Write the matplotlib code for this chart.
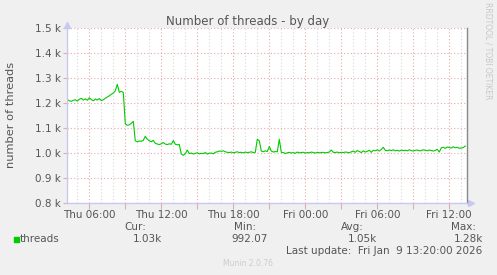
import matplotlib
matplotlib.use('Agg')
import matplotlib.pyplot as plt
import matplotlib.dates as mdates
from matplotlib.ticker import FixedLocator, FuncFormatter
import pandas as pd

# ---------------------------------------------------------------
# Data: number of threads, 10-minute samples, Thu 04:10 .. Fri 13:20
# ---------------------------------------------------------------
start_time = '2026-01-08 04:10'
threads = [
    1215, 1210, 1208, 1212, 1214, 1209, 1216, 1220, 1213, 1218,
    1212, 1222, 1215, 1210, 1217, 1213, 1219, 1211, 1214, 1220,
    1225, 1230, 1236, 1241, 1250, 1276, 1244, 1248, 1243,
    1118, 1112, 1114, 1120, 1128,
    1050, 1046, 1049, 1048, 1052, 1068,
    1056, 1050, 1046, 1052, 1040, 1037, 1035, 1038, 1043, 1037,
    1035, 1038, 1036, 1051, 1036, 1034, 1035,
    997, 992, 998, 1013,
    999, 1001, 997, 1000, 1002, 998, 1000, 999, 1003, 997,
    1000, 1001, 998, 1004, 1006, 1009, 1008, 1010,
    1006, 1004, 1003, 1005, 1002, 1004, 1006, 1003, 1004, 1002,
    1005, 1003, 1004, 1006, 1003, 1004,
    1056, 1050,
    1009, 1006, 1010, 1007,
    1027,
    1009, 1005, 1007,
    1006,
    1056,
    1004, 1003, 999, 1002, 1004, 1001, 1003, 1000, 1005, 1002,
    1003, 1004, 1001, 1003, 1002, 1005, 1003, 1001, 1004, 1002,
    1003, 1004, 1002, 1003, 1005,
    1013,
    1004, 1003, 1005, 1002, 1004, 1003, 1005, 1004, 1002, 1006,
    1009, 1004, 1011, 1007, 1003, 1010, 1005, 1008, 1012, 1004,
    1012, 1010, 1014, 1009, 1015, 1024,
    1012, 1010, 1013, 1011, 1014, 1010, 1012, 1009, 1013, 1011,
    1012, 1010, 1014, 1011, 1009, 1012, 1013, 1010, 1011, 1014,
    1012, 1010, 1013, 1011, 1009, 1012, 1016,
    1005,
    1022, 1024, 1020, 1025, 1023, 1021, 1026, 1022, 1024, 1020,
    1021, 1023, 1029,
]
times = pd.date_range(start_time, periods=len(threads), freq='10min')

y_ticks = [800, 900, 1000, 1100, 1200, 1300, 1400, 1500]
stat_names = ['Cur:', 'Min:', 'Avg:', 'Max:']
stat_values = ['1.03k', '992.07', '1.05k', '1.28k']
last_update = 'Last update:  Fri Jan  9 13:20:00 2026'

# ---------------------------------------------------------------
# Figure
# ---------------------------------------------------------------
W, H = 497, 275
bg = '#f0f0f0'
txt = '#555555'
fig = plt.figure(figsize=(W / 100, H / 100), dpi=100, facecolor=bg)
ax = fig.add_axes([66.7 / W, 1 - 203.3 / H, 400 / W, 175 / H])
ax.set_facecolor('white')

ax.plot(times, threads, color='#00cc00', linewidth=0.8)

ax.set_xlim(pd.Timestamp('2026-01-08 04:07'), pd.Timestamp('2026-01-09 13:27'))
ax.set_ylim(800, 1500)

# grid: grey every hour, red every 3 hours, labels every 6 hours
ax.xaxis.set_minor_locator(mdates.HourLocator())
ax.xaxis.set_major_locator(mdates.HourLocator(byhour=range(0, 24, 3)))
ax.xaxis.set_major_formatter(FuncFormatter(
    lambda v, p: mdates.num2date(v).strftime('%a %H:%M')
    if mdates.num2date(v).hour % 6 == 0 else ''))
ax.grid(which='minor', axis='x', color='#d8d8d8', linestyle=(0, (1, 2)), linewidth=0.8)
ax.grid(which='major', axis='x', color='#eaa8a8', linestyle=(0, (1, 2)), linewidth=0.8)
ax.yaxis.set_major_locator(FixedLocator(y_ticks))
ax.yaxis.set_major_formatter(FuncFormatter(lambda v, p: f'{v / 1000:.1f} k'))
ax.grid(which='major', axis='y', color='#eaa8a8', linestyle=(0, (1, 2)), linewidth=0.8)

ax.tick_params(axis='x', which='major', length=4, color='#eaa8a8',
               labelsize=7.5, labelcolor=txt, pad=1)
ax.tick_params(axis='x', which='minor', length=0)
ax.tick_params(axis='y', length=3, color='#eaa8a8', labelsize=7.5,
               labelcolor=txt, pad=1)

ax.spines['top'].set_visible(False)
ax.spines['left'].set_color('#c8c8f0')
ax.spines['bottom'].set_color('#c8c8f0')
ax.spines['right'].set_color('#888888')
for s in ['left', 'bottom', 'right']:
    ax.spines[s].set_linewidth(1.0)

# axis arrows
ax.plot([0], [1.02], marker='^', markersize=5, color='#c8c8f0',
        transform=ax.transAxes, clip_on=False)
ax.plot([1.01], [0], marker='>', markersize=5, color='#c8c8f0',
        transform=ax.transAxes, clip_on=False)

# texts
fig.text(248 / W, 1 - 21 / H, 'Number of threads - by day', ha='center',
         va='center', fontsize=8.5, color=txt)
fig.text(11 / W, 1 - 115 / H, 'number of threads', rotation=90, ha='center',
         va='center', fontsize=8.2, color=txt)
fig.text(488 / W, 1 - 51 / H, 'RRDTOOL / TOBI OETIKER', rotation=270,
         ha='center', va='center', fontsize=5.5, color='#c8c8c8')

# legend
fig.patches.append(plt.Rectangle((14 / W, 1 - 242 / H), 5 / W, 5 / H,
                                 transform=fig.transFigure, color='#00cc00'))
fig.text(20 / W, 1 - 239 / H, 'threads', ha='left', va='center',
         fontsize=7.5, color=txt)
head_x = [146, 256, 364, 476]
val_x = [162, 268, 377, 483]
for name, val, hx, vx in zip(stat_names, stat_values, head_x, val_x):
    fig.text(hx / W, 1 - 227 / H, name, ha='right', va='center',
             fontsize=7.5, color=txt)
    fig.text(vx / W, 1 - 239 / H, val, ha='right', va='center',
             fontsize=7.5, color=txt)
fig.text(482 / W, 1 - 251 / H, last_update, ha='right', va='center',
         fontsize=7.5, color=txt)
fig.text(248 / W, 1 - 263 / H, 'Munin 2.0.76', ha='center', va='center',
         fontsize=5.5, color='#cccccc')

fig.savefig('out.png', dpi=100, facecolor=bg)
